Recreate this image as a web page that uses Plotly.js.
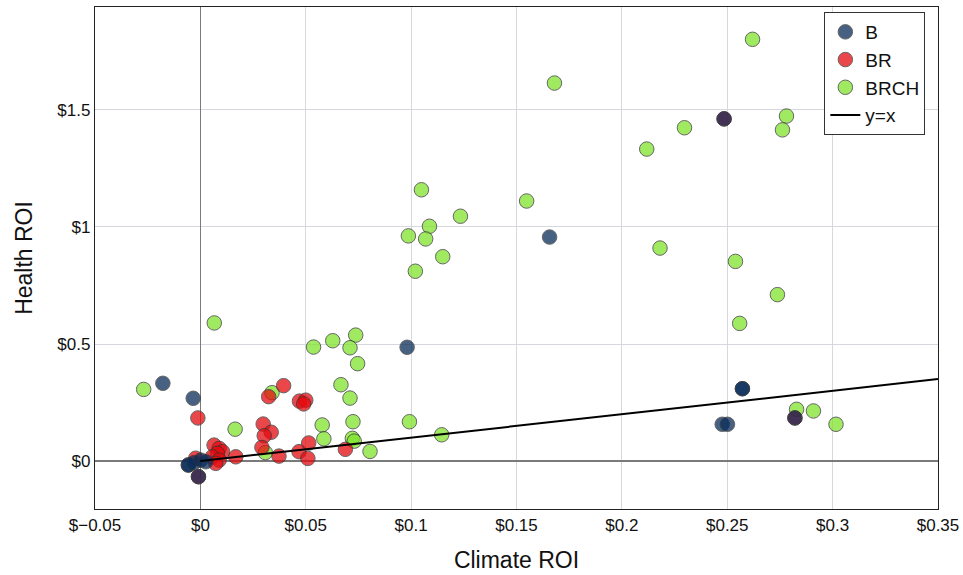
<!DOCTYPE html>
<html>
<head>
<meta charset="utf-8">
<script src="https://cdn.plot.ly/plotly-3.0.1.min.js"></script>
<style>html,body{margin:0;padding:0;background:#fff;}#chart{width:963px;height:575px;}</style>
</head>
<body>
<div id="chart"></div>
<script>
// Series B
const bX = [-0.0178, -0.0034, 0.0981, 0.1657, 0.2485, 0.2572, 0.2572, 0.2476, 0.2501, 0.2821, -0.0057, -0.0057, -0.0030, 0.0002, 0.0026, -0.0009];
const bY = [0.332, 0.268, 0.486, 0.957, 1.462, 0.309, 0.309, 0.157, 0.157, 0.184, -0.017, -0.017, -0.007, 0.004, -0.003, -0.067];
// Series BR
const brX = [-0.0012, 0.0395, 0.0324, 0.0470, 0.0500, 0.0490, 0.0298, 0.0336, 0.0303, 0.0292, 0.0373, 0.0468, 0.0514, 0.0510, 0.0688,
             0.0065, 0.0089, 0.0105, 0.0081, 0.0057, 0.0089, 0.0073, 0.0168, -0.0022, 0.2485, 0.2821, -0.0009];
const brY = [0.184, 0.322, 0.275, 0.256, 0.260, 0.244, 0.158, 0.123, 0.108, 0.058, 0.021, 0.040, 0.077, 0.011, 0.050,
             0.068, 0.054, 0.040, 0.033, 0.018, 0.004, -0.010, 0.018, 0.012, 1.462, 0.184, -0.067];
// Series BRCH
const brchX = [0.2620, 0.1680, 0.2297, 0.2781, 0.2762, 0.2118, 0.2181, 0.2539, 0.2738, 0.2559, 0.2829, 0.2909, 0.3016,
               0.1049, 0.1548, 0.1234, 0.1087, 0.0987, 0.1069, 0.1150, 0.1020, 0.0737, 0.0628, 0.0537, 0.0710, 0.0746,
               0.0667, 0.0710, 0.0578, 0.0724, 0.0992, 0.0586, 0.0721, 0.0730, 0.0805, 0.1145, -0.0269, 0.0165, 0.0340,
               0.0308, 0.0066];
const brchY = [1.802, 1.615, 1.424, 1.474, 1.415, 1.333, 0.910, 0.853, 0.711, 0.588, 0.221, 0.214, 0.157,
               1.159, 1.111, 1.046, 1.003, 0.962, 0.949, 0.873, 0.811, 0.538, 0.514, 0.487, 0.484, 0.416,
               0.326, 0.269, 0.154, 0.168, 0.168, 0.095, 0.097, 0.085, 0.041, 0.112, 0.306, 0.136, 0.292,
               0.036, 0.590];
// Reference line y = x
const lineX = [0, 0.35];
const lineY = lineX.slice();

const mk = (c) => ({size: 14.5, color: c, opacity: 0.75, line: {color: '#333333', width: 1}});

const traces = [
  {x: brchX, y: brchY, name: 'BRCH', type: 'scatter', mode: 'markers', marker: mk('rgb(128,227,43)'), legendrank: 3},
  {x: brX, y: brY, name: 'BR', type: 'scatter', mode: 'markers', marker: mk('rgb(228,10,15)'), legendrank: 2},
  {x: bX, y: bY, name: 'B', type: 'scatter', mode: 'markers', marker: mk('rgb(10,45,90)'), legendrank: 1},
  {x: lineX, y: lineY, name: 'y=x', type: 'scatter', mode: 'lines', line: {color: '#000000', width: 2}, legendrank: 4}
];

const font = {family: '"Liberation Sans", Arial, Helvetica, sans-serif', color: '#111111'};

const layout = {
  width: 963, height: 575,
  margin: {l: 95, r: 25, t: 7, b: 66},
  paper_bgcolor: '#ffffff', plot_bgcolor: '#ffffff',
  font: Object.assign({size: 17}, font),
  showlegend: true,
  legend: {x: 0.985, y: 0.99, xanchor: 'right', yanchor: 'top', bgcolor: '#ffffff',
           bordercolor: '#333333', borderwidth: 1, font: Object.assign({size: 19}, font)},
  xaxis: {
    range: [-0.05, 0.35], dtick: 0.05, tick0: 0, tickprefix: '$',
    showgrid: true, gridcolor: '#d6d8e0', gridwidth: 1,
    zeroline: true, zerolinecolor: '#7a7a7a', zerolinewidth: 1.5,
    showline: true, mirror: true, linecolor: '#222222', linewidth: 1.2,
    ticks: '', tickfont: Object.assign({size: 17}, font),
    title: {text: 'Climate ROI', font: Object.assign({size: 23}, font), standoff: 18}
  },
  yaxis: {
    range: [-0.205, 1.94], dtick: 0.5, tick0: 0, tickprefix: '$',
    showgrid: true, gridcolor: '#d6d8e0', gridwidth: 1,
    zeroline: true, zerolinecolor: '#7a7a7a', zerolinewidth: 1.5,
    showline: true, mirror: true, linecolor: '#222222', linewidth: 1.2,
    ticks: '', tickfont: Object.assign({size: 17}, font),
    title: {text: 'Health ROI', font: Object.assign({size: 23}, font), standoff: 18}
  }
};

Plotly.newPlot('chart', traces, layout, {displayModeBar: false, staticPlot: true});
</script>
</body>
</html>
